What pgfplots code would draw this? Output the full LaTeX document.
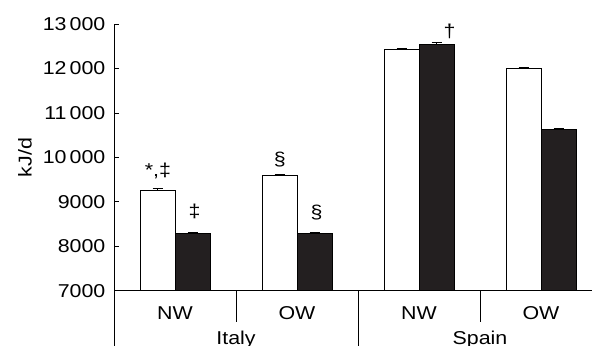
\documentclass[border=0pt]{standalone}
\usepackage{pgfplots}
\pgfplotsset{compat=1.18}
\usepackage{fontspec}
\setmainfont{Liberation Sans}[FakeStretch=1.15]
\definecolor{barblack}{RGB}{35,31,32}
\newcommand{\lf}{\fontsize{9.3}{11}\selectfont}
\begin{document}
\lf
\begin{tikzpicture}[font=\lf]
\begin{axis}[
  scale only axis,
  width=239pt, height=133.5pt,
  xmin=-0.5, xmax=3.418,
  ymin=7000, ymax=13000,
  axis y line=left, axis x line=bottom,
  axis line style={-, line width=0.5pt},
  ybar=0pt, bar width=17.5pt,
  scaled y ticks=false,
  ytick={7000,8000,9000,10000,11000,12000,13000},
  yticklabels={7000,8000,9000,10\,000,11\,000,12\,000,13\,000},
  ytick align=inside, major tick length=2.5pt,
  tick style={line width=0.5pt, black},
  yticklabel style={font=\lf, xshift=-1pt},
  xtick={0,1,2,3}, xticklabels={NW,OW,NW,OW},
  xtick style={draw=none},
  xticklabel style={font=\lf, yshift=-2pt},
  ylabel={kJ/d},
  ylabel style={font=\lf, at={(axis description cs:-0.186,0.5)}, anchor=center},
  clip=false,
  every axis plot/.append style={line width=0.5pt},
  error bars/error bar style={line width=0.5pt, black},
  error bars/error mark options={rotate=90, mark size=2.5pt, line width=0.5pt, black},
]
\addplot[draw=black, fill=white,
  error bars/.cd, y dir=plus, y explicit]
  coordinates {(0,9250) +- (0,50) (1,9590) +- (0,30) (2,12420) +- (0,30) (3,12000) +- (0,25)};
\addplot[draw=black, fill=barblack,
  error bars/.cd, y dir=plus, y explicit]
  coordinates {(0,8290) +- (0,25) (1,8300) +- (0,25) (2,12550) +- (0,35) (3,10620) +- (0,35)};
\draw[line width=0.5pt] (axis cs:0.5,7000) -- ([yshift=-15.5pt]axis cs:0.5,7000);
\draw[line width=0.5pt] (axis cs:2.5,7000) -- ([yshift=-15.5pt]axis cs:2.5,7000);
\draw[line width=0.5pt] (axis cs:1.5,7000) -- ([yshift=-30pt]axis cs:1.5,7000);
\draw[line width=0.5pt] (axis cs:-0.5,7000) -- ([yshift=-30pt]axis cs:-0.5,7000);
\node at ([yshift=-24.5pt]axis cs:0.5,7000) {Italy};
\node at ([yshift=-24.5pt]axis cs:2.5,7000) {Spain};
\node at (axis cs:-0.14,9690) {*,‡};
\node at (axis cs:0.16,8780) {‡};
\node at (axis cs:0.86,9950) {§};
\node at (axis cs:1.16,8760) {§};
\node at (axis cs:2.25,12830) {†};
\end{axis}
\pgfresetboundingbox
\useasboundingbox ([xshift=-57pt,yshift=-27.5pt]current axis.south west) rectangle ([yshift=12pt]current axis.north east);
\end{tikzpicture}
\end{document}
